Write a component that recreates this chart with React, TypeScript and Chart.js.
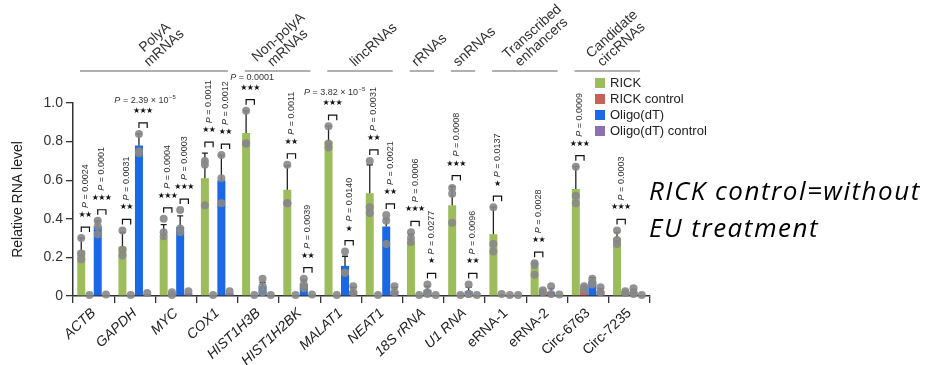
import React, { useEffect, useRef } from 'react';
import { Chart, registerables } from 'chart.js';

Chart.register(...registerables);

const FONT = "Arial, 'Liberation Sans', Helvetica, sans-serif";

const categories = ['ACTB', 'GAPDH', 'MYC', 'COX1', 'HIST1H3B', 'HIST1H2BK', 'MALAT1', 'NEAT1', '18S rRNA', 'U1 RNA', 'eRNA-1', 'eRNA-2', 'Circ-6763', 'Circ-7235'];
const italicCount = 10;

const seriesNames = ['RICK', 'RICK control', 'Oligo(dT)', 'Oligo(dT) control'];
const seriesColors = ['#9dbd5c', '#c8605a', '#1a68e6', '#8a70ae'];

// bar means
const rickMean = [0.235, 0.256, 0.30, 0.61, 0.845, 0.55, 0.80, 0.533, 0.28, 0.47, 0.32, 0.15, 0.555, 0.30];
const rickCtrlMean = [0.003, 0.003, 0.01, 0.003, 0.003, 0.003, 0.003, 0.003, 0.003, 0.003, 0.01, 0.02, 0.04, 0.02];
const oligoMean = [0.36, 0.78, 0.357, 0.60, 0.05, 0.062, 0.156, 0.36, 0.03, 0.025, 0.005, 0.02, 0.075, 0.02];
const oligoCtrlMean = [0.003, 0.01, 0.015, 0.015, 0.003, 0.003, 0.025, 0.025, 0.003, 0.003, 0.003, 0.005, 0.025, 0.005];

// standard deviations (upper error bars)
const rickSd = [0.065, 0.074, 0.07, 0.13, 0.115, 0.125, 0.08, 0.147, 0.04, 0.097, 0.14, 0.02, 0.115, 0.03];
const rickCtrlSd = [0, 0, 0, 0, 0, 0, 0, 0, 0, 0, 0, 0.01, 0.01, 0.005];
const oligoSd = [0.03, 0.06, 0.058, 0.13, 0.02, 0.02, 0.05, 0.04, 0.02, 0.02, 0, 0.02, 0.02, 0.01];
const oligoCtrlSd = [0, 0, 0, 0, 0, 0, 0.02, 0.02, 0, 0, 0, 0, 0.015, 0];

// replicate points
const rickPts = [
  [0.30, 0.22, 0.19], [0.34, 0.24, 0.21], [0.40, 0.33, 0.31], [0.70, 0.68, 0.47],
  [0.96, 0.79, 0.79], [0.68, 0.48, 0.48], [0.88, 0.79, 0.77], [0.70, 0.46, 0.43],
  [0.33, 0.30, 0.28], [0.56, 0.53, 0.38], [0.46, 0.27, 0.23], [0.17, 0.16, 0.11],
  [0.67, 0.52, 0.48], [0.34, 0.29, 0.27],
];
const rickCtrlPts = [
  [0.005], [0.005], [0.02, 0.005], [0.005], [0.005], [0.005], [0.005], [0.005],
  [0.005], [0.005], [0.01], [0.03, 0.02], [0.05, 0.04, 0.03], [0.025, 0.015],
];
const oligoPts = [
  [0.39, 0.36, 0.32], [0.84, 0.75, 0.74], [0.445, 0.35, 0.33], [0.73, 0.61, 0.48],
  [0.09, 0.05, 0.02], [0.09, 0.06, 0.04], [0.23, 0.12, 0.12], [0.42, 0.39, 0.27],
  [0.06, 0.02, 0.01], [0.06, 0.01, 0.01], [0.005], [0.05, 0.01], [0.09, 0.07, 0.06],
  [0.04, 0.02, 0.01],
];
const oligoCtrlPts = [
  [0.008], [0.015], [0.025], [0.025], [0.005], [0.008], [0.05, 0.02], [0.05, 0.02],
  [0.005], [0.005], [0.005], [0.008], [0.045, 0.02], [0.005],
];

// category groups
const groupNames = [['PolyA', 'mRNAs'], ['Non-polyA', 'mRNAs'], ['lincRNAs'], ['rRNAs'], ['snRNAs'], ['Transcribed', 'enhancers'], ['Candidate', 'circRNAs']];
const groupFirst = [0, 4, 6, 8, 9, 10, 12];
const groupLast = [3, 5, 7, 8, 9, 11, 13];

// significance annotations (pair 0 = RICK vs control, pair 2 = Oligo(dT) vs control)
const annCat = [0, 0, 1, 1, 2, 2, 3, 3, 4, 5, 5, 6, 6, 7, 7, 8, 8, 9, 9, 10, 11, 12, 13];
const annPair = [0, 2, 0, 2, 0, 2, 0, 2, 0, 0, 2, 0, 2, 0, 2, 0, 2, 0, 2, 0, 0, 0, 0];
const annP = ['0.0024', '0.0001', '0.0031', '2.39 × 10^−5', '0.0004', '0.0003', '0.0011', '0.0012', '0.0001', '0.0011', '0.0039', '3.82 × 10^−5', '0.0140', '0.0031', '0.0021', '0.0006', '0.0277', '0.0008', '0.0096', '0.0137', '0.0028', '0.0009', '0.0003'];
const annStars = [2, 3, 2, 3, 3, 3, 2, 2, 3, 2, 2, 3, 1, 2, 2, 3, 1, 3, 2, 1, 2, 3, 3];
const annHorizontal = [false, false, false, true, false, false, false, false, true, false, false, true, false, false, false, false, false, false, false, false, false, false, false];

const noteLines = ['RICK control=without', 'EU treatment'];

const means = [rickMean, rickCtrlMean, oligoMean, oligoCtrlMean];
const sds = [rickSd, rickCtrlSd, oligoSd, oligoCtrlSd];
const pts = [rickPts, rickCtrlPts, oligoPts, oligoCtrlPts];

const P_IT = `italic 9px ${FONT}`;
const P_RG = `9px ${FONT}`;
const P_EXP = `6px ${FONT}`;

function pWidth(ctx: CanvasRenderingContext2D, p: string) {
  const [mant, exp] = p.split('^');
  ctx.font = P_IT;
  let w = ctx.measureText('P').width;
  ctx.font = P_RG;
  w += ctx.measureText(' = ' + mant).width;
  if (exp) {
    ctx.font = P_EXP;
    w += ctx.measureText(exp).width + 0.5;
  }
  return w;
}

function drawP(ctx: CanvasRenderingContext2D, p: string, x0: number, y0: number) {
  const [mant, exp] = p.split('^');
  let x = x0;
  ctx.font = P_IT;
  ctx.fillText('P', x, y0);
  x += ctx.measureText('P').width;
  ctx.font = P_RG;
  ctx.fillText(' = ' + mant, x, y0);
  x += ctx.measureText(' = ' + mant).width;
  if (exp) {
    ctx.font = P_EXP;
    ctx.fillText(exp, x + 0.5, y0 - 4);
  }
}

const overlayPlugin = {
  id: 'overlay',
  afterDatasetsDraw(chart: any) {
    const ctx: CanvasRenderingContext2D = chart.ctx;
    const y = chart.scales.y;
    const x = chart.scales.x;
    const area = chart.chartArea;
    ctx.save();

    // error bars
    ctx.strokeStyle = '#222';
    ctx.lineWidth = 1.3;
    for (let d = 0; d < 4; d++) {
      const meta = chart.getDatasetMeta(d);
      meta.data.forEach((bar: any, i: number) => {
        const sd = sds[d][i];
        if (!sd) return;
        const y0 = y.getPixelForValue(means[d][i]);
        const y1 = y.getPixelForValue(means[d][i] + sd);
        ctx.beginPath();
        ctx.moveTo(bar.x, y0);
        ctx.lineTo(bar.x, y1);
        ctx.moveTo(bar.x - 3, y1);
        ctx.lineTo(bar.x + 3, y1);
        ctx.stroke();
      });
    }
    // points
    ctx.fillStyle = 'rgba(135,135,135,0.9)';
    for (let d = 0; d < 4; d++) {
      const meta = chart.getDatasetMeta(d);
      meta.data.forEach((bar: any, i: number) => {
        pts[d][i].forEach((v) => {
          ctx.beginPath();
          ctx.arc(bar.x, y.getPixelForValue(v), 4, 0, Math.PI * 2);
          ctx.fill();
        });
      });
    }

    // significance annotations
    for (let k = 0; k < annCat.length; k++) {
      const i = annCat[k];
      const d = annPair[k];
      const b1 = chart.getDatasetMeta(d).data[i];
      const b2 = chart.getDatasetMeta(d + 1).data[i];
      let top = 0;
      for (const dd of [d, d + 1]) {
        top = Math.max(top, means[dd][i] + sds[dd][i], ...pts[dd][i]);
      }
      const by = y.getPixelForValue(top) - 11;
      ctx.strokeStyle = '#111';
      ctx.lineWidth = 1.2;
      ctx.beginPath();
      ctx.moveTo(b1.x, by + 5);
      ctx.lineTo(b1.x, by);
      ctx.lineTo(b2.x, by);
      ctx.lineTo(b2.x, by + 5);
      ctx.stroke();
      const cx = (b1.x + b2.x) / 2;
      const sy = by - 12;
      ctx.fillStyle = '#111';
      ctx.font = `8px 'DejaVu Sans', sans-serif`;
      ctx.textAlign = 'center';
      ctx.textBaseline = 'middle';
      const n = annStars[k];
      for (let s = 0; s < n; s++) {
        ctx.fillText('★', cx + (s - (n - 1) / 2) * 6.5, sy);
      }
      ctx.fillStyle = '#333';
      ctx.textAlign = 'left';
      if (annHorizontal[k]) {
        ctx.textBaseline = 'alphabetic';
        const w = pWidth(ctx, annP[k]);
        drawP(ctx, annP[k], cx - w / 2 + 2, sy - 8);
      } else {
        ctx.save();
        ctx.translate(cx, sy - 7);
        ctx.rotate(-Math.PI / 2);
        ctx.textBaseline = 'middle';
        drawP(ctx, annP[k], 0, 0);
        ctx.restore();
      }
    }

    // group lines and labels
    const catW = x.getPixelForValue(1) - x.getPixelForValue(0);
    const ang = (-42 * Math.PI) / 180;
    for (let g = 0; g < groupNames.length; g++) {
      const x1 = x.getPixelForValue(groupFirst[g]) - catW / 2 + 7;
      const x2 = x.getPixelForValue(groupLast[g]) + catW / 2 - 10;
      const ly = area.top - 32;
      ctx.strokeStyle = '#b0b0b0';
      ctx.lineWidth = 2;
      ctx.beginPath();
      ctx.moveTo(x1, ly);
      ctx.lineTo(x2, ly);
      ctx.stroke();
      const lines = groupNames[g];
      ctx.font = `14px ${FONT}`;
      const wl = ctx.measureText(lines[lines.length - 1]).width;
      const sx = (x1 + x2) / 2 - 5;
      const sy = ly - 4;
      const ox = sx + (wl / 2) * Math.cos(ang);
      const oy = sy + (wl / 2) * Math.sin(ang);
      ctx.save();
      ctx.translate(ox, oy);
      ctx.rotate(ang);
      ctx.fillStyle = '#333';
      ctx.textAlign = 'center';
      ctx.textBaseline = 'alphabetic';
      lines.forEach((t, li) => {
        ctx.fillText(t, 0, (li - (lines.length - 1)) * 14);
      });
      ctx.restore();
    }

    // legend
    ctx.font = `13px ${FONT}`;
    ctx.textAlign = 'left';
    ctx.textBaseline = 'middle';
    const lx = area.right - 55;
    const lyTop = area.top - 20;
    seriesNames.forEach((name, s) => {
      const cy = lyTop + s * 16;
      ctx.fillStyle = seriesColors[s];
      ctx.fillRect(lx, cy - 5, 10, 10);
      ctx.fillStyle = '#222';
      ctx.fillText(name, lx + 15, cy + 0.5);
    });

    // side note
    ctx.fillStyle = '#000';
    ctx.font = `italic 26px 'Open Sans', Lato, sans-serif`;
    (ctx as any).letterSpacing = '1.5px';
    ctx.textBaseline = 'alphabetic';
    noteLines.forEach((t, li) => {
      ctx.fillText(t, area.right - 1, area.top + 97 + li * 37);
    });
    (ctx as any).letterSpacing = '0px';

    ctx.restore();
  },
};

export default function App() {
  const ref = useRef<HTMLCanvasElement | null>(null);
  useEffect(() => {
    document.body.style.margin = '0';
    const canvas = ref.current;
    if (!canvas) return;
    const chart = new Chart(canvas, {
      type: 'bar',
      data: {
        labels: categories,
        datasets: seriesNames.map((name, s) => ({
          label: name,
          data: means[s],
          backgroundColor: seriesColors[s],
          borderWidth: 0,
          categoryPercentage: 0.8,
          barPercentage: 0.97,
        })),
      },
      options: {
        animation: false,
        responsive: false,
        maintainAspectRatio: false,
        layout: { padding: { left: 10, top: 103, right: 281, bottom: 0 } },
        plugins: { legend: { display: false }, tooltip: { enabled: false } },
        scales: {
          x: {
            grid: { display: true, drawOnChartArea: false, drawTicks: true, tickLength: 7, color: '#333', lineWidth: 1.3, offset: true },
            border: { display: true, color: '#333', width: 1.5 },
            ticks: {
              autoSkip: false,
              minRotation: 43,
              maxRotation: 43,
              padding: 2,
              color: '#222',
              font: (c: any) => ({ family: FONT, size: 14, style: c.index < italicCount ? 'italic' : 'normal' }),
            },
            afterFit: (s: any) => { s.height = 69; },
          },
          y: {
            min: 0,
            max: 1,
            ticks: {
              stepSize: 0.1,
              color: '#333',
              padding: 3,
              font: { family: FONT, size: 14 },
              callback: (_v: any, i: number) => (i % 2 === 0 ? (i === 0 ? '0' : (i / 10).toFixed(1)) : ''),
            },
            grid: { drawOnChartArea: false, tickLength: 7, color: '#333', lineWidth: 1.3 },
            border: { color: '#333', width: 1.5 },
            title: { display: true, text: 'Relative RNA level', color: '#222', font: { family: FONT, size: 14 }, padding: { top: 0, bottom: 4 } },
            afterFit: (s: any) => { s.width = 63; },
          },
        },
      },
      plugins: [overlayPlugin],
    } as any);
    return () => chart.destroy();
  }, []);
  return (
    <div style={{ width: 931, height: 365, position: 'relative' }}>
      <canvas ref={ref} width={931} height={365} style={{ display: 'block' }} />
    </div>
  );
}
